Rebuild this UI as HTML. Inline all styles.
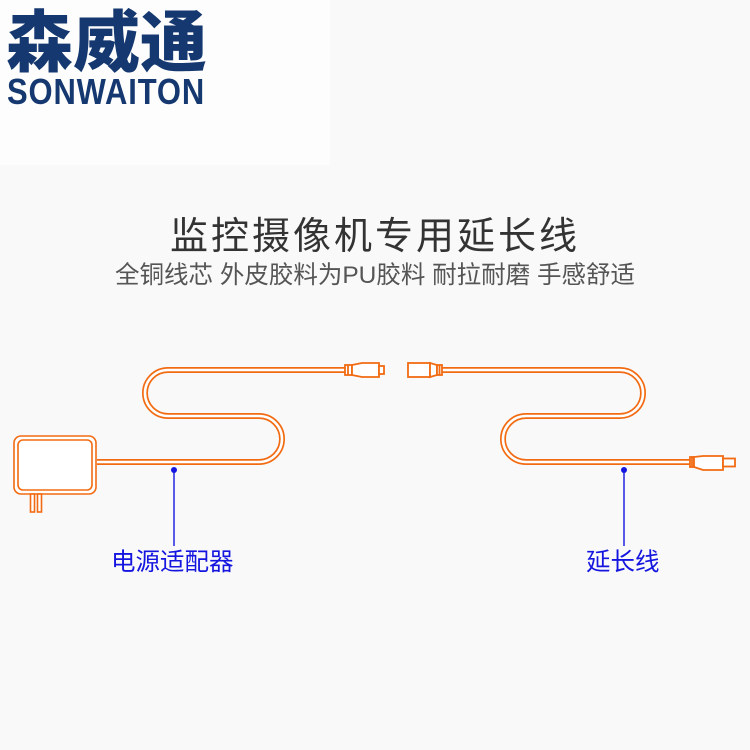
<!DOCTYPE html>
<html><head><meta charset="utf-8"><style>
html,body{margin:0;padding:0;}
body{width:750px;height:750px;background:#f9f9f9;position:relative;overflow:hidden;font-family:"Liberation Sans","Noto Sans CJK SC",sans-serif;}
.logo{position:absolute;left:0;top:0;width:330px;height:165px;background:#fdfdfd;}
.cn{position:absolute;left:6px;top:0px;font-size:67px;font-weight:900;color:#14386f;letter-spacing:0px;line-height:76px;font-family:"Noto Sans CJK SC",sans-serif;}
.en{position:absolute;left:7px;top:74px;font-size:36px;font-weight:bold;color:#14386f;line-height:36px;letter-spacing:1px;transform:scaleX(0.86);transform-origin:left;}
.t1{position:absolute;left:0;width:750px;top:210px;text-align:center;font-size:38px;color:#333;letter-spacing:3px;line-height:54px;}
.t2{position:absolute;left:0;width:750px;top:259px;text-align:center;font-size:24.5px;color:#555;line-height:34px;}
.lb{position:absolute;top:547px;font-size:24.5px;color:#1515e0;line-height:32px;}
</style></head><body>
<div class="logo"><div class="cn">森威通</div><div class="en">SONWAITON</div></div>
<div class="t1">监控摄像机专用延长线</div>
<div class="t2">全铜线芯 外皮胶料为PU胶料 耐拉耐磨 手感舒适</div>
<svg width="750" height="750" style="position:absolute;left:0;top:0">
<g fill="none" stroke-linecap="butt">
<path d="M97 462 H259 A23 23 0 0 0 259 416 H168 A23 23 0 0 1 168 370 H345" stroke="#f26b12" stroke-width="6"/>
<path d="M97 462 H259 A23 23 0 0 0 259 416 H168 A23 23 0 0 1 168 370 H345" stroke="#fff" stroke-width="2.6"/>
<path d="M442 370 H620 A23 23 0 0 1 620 416 H526 A23 23 0 0 0 526 462 H690" stroke="#f26b12" stroke-width="6"/>
<path d="M442 370 H620 A23 23 0 0 1 620 416 H526 A23 23 0 0 0 526 462 H690" stroke="#fff" stroke-width="2.6"/>
<g stroke="#f26b12" stroke-width="1.6">
<rect x="14" y="436" width="82" height="58" rx="7" fill="#fff"/>
<rect x="18" y="440" width="74" height="50" rx="5"/>
<rect x="30.5" y="494" width="4" height="18" fill="#fff"/>
<rect x="37.5" y="494" width="4" height="18" fill="#fff"/>
</g>
<g stroke="#f26b12" stroke-width="1.8" fill="#fff">
<rect x="345" y="365" width="7" height="10"/>
<line x1="348" y1="365" x2="348" y2="375"/>
<path d="M352 365 L362 363 H379 V377 H362 L352 375 Z"/>
<rect x="379" y="366" width="5" height="8"/>
<rect x="408" y="363" width="22" height="14"/>
<path d="M430 363 L437 365 V375 L430 377 Z"/>
<rect x="437" y="365" width="5" height="10"/>
<line x1="439.5" y1="365" x2="439.5" y2="375"/>
<rect x="690" y="457" width="4" height="10"/>
<line x1="692" y1="457" x2="692" y2="467"/>
<path d="M694 457 L703 456 H723 V470 H703 L694 467 Z"/>
<rect x="723" y="458.5" width="12" height="8"/>
</g>
</g>
<g fill="#1515e0" stroke="#1515e0">
<circle cx="174" cy="470" r="3" stroke="none"/>
<line x1="174" y1="470" x2="174" y2="546" stroke-width="1.4"/>
<circle cx="624" cy="470" r="3" stroke="none"/>
<line x1="624" y1="470" x2="624" y2="546" stroke-width="1.4"/>
</g>
</svg>
<div class="lb" style="left:111px">电源适配器</div>
<div class="lb" style="left:586px">延长线</div>
</body></html>
